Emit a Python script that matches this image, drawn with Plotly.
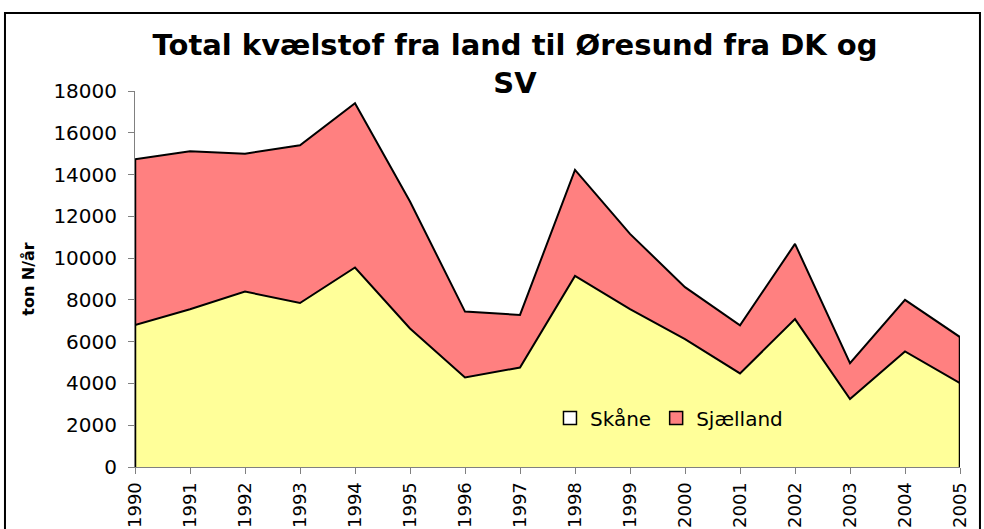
import plotly.graph_objects as go

years = list(range(1990, 2006))
skaane = [6800, 7550, 8400, 7850, 9550, 6630, 4290, 4760, 9150, 7560, 6120, 4480, 7080, 3250, 5530, 4020]
sjaelland = [7930, 7560, 6600, 7550, 7860, 6080, 3150, 2520, 5070, 3600, 2490, 2300, 3600, 1720, 2470, 2200]
series_names = ["Skåne", "Sjælland"]
series_colors = ["#FFFF99", "#FF8080"]
legend_swatch = ["#FFFFFF", "#FF8080"]
y_ticks = list(range(0, 18001, 2000))

FONT = "DejaVu Sans, Liberation Sans, Arial, sans-serif"

fig = go.Figure()
for name, vals, col in zip(series_names, [skaane, sjaelland], series_colors):
    fig.add_trace(go.Scatter(
        x=years, y=vals, name=name, stackgroup="one", mode="lines",
        line=dict(color="black", width=2), fillcolor=col, showlegend=False,
        hoverinfo="x+y+name",
    ))

totals = [a + b for a, b in zip(skaane, sjaelland)]
# vertical edges of the area at the first and last year
for xi, top in [(years[0], totals[0]), (years[-1], totals[-1])]:
    fig.add_trace(go.Scatter(x=[xi, xi], y=[0, top], mode="lines",
                             line=dict(color="black", width=2.5),
                             showlegend=False, hoverinfo="skip"))

for name, sw in zip(series_names, legend_swatch):
    fig.add_trace(go.Scatter(
        x=[None], y=[None], mode="markers", name=name,
        marker=dict(symbol="square", size=13, color=sw,
                    line=dict(color="black", width=1.5)),
    ))

fig.update_layout(
    width=984, height=529,
    margin=dict(l=135, r=24, t=91, b=62, autoexpand=False),
    paper_bgcolor="white", plot_bgcolor="white",
    font=dict(family=FONT, size=20, color="black"),
    title=dict(
        text="<b>Total kvælstof fra land til Øresund fra DK og<br>SV</b>",
        xref="container", yref="container",
        x=0.5234, xanchor="center", y=0.896, yanchor="middle",
        font=dict(family=FONT, size=29, color="black"),
    ),
    showlegend=True,
    legend=dict(
        orientation="h", x=0.503, y=0.13, xanchor="left", yanchor="middle",
        bgcolor="rgba(0,0,0,0)", font=dict(family=FONT, size=20),
        itemwidth=30, traceorder="normal", tracegroupgap=0,
    ),
    xaxis=dict(
        range=[years[0], years[-1]], tickmode="array", tickvals=years,
        ticktext=[str(y) for y in years], tickangle=-90,
        showgrid=False, zeroline=False, showline=True, linecolor="#808080",
        linewidth=1, ticks="outside", ticklen=6, tickcolor="#808080",
        tickfont=dict(family=FONT, size=18), automargin=False,
        ticklabelstandoff=1,
    ),
    yaxis=dict(
        range=[0, 18000], tickmode="array", tickvals=y_ticks,
        ticktext=[str(v) for v in y_ticks],
        showgrid=False, zeroline=False, showline=True, linecolor="#808080",
        linewidth=1, ticks="outside", ticklen=6, tickcolor="#808080",
        tickfont=dict(family=FONT, size=20), automargin=False,
        ticklabelstandoff=7,
        title=dict(text="<b>ton N/år</b>", font=dict(family=FONT, size=16), standoff=14),
    ),
    shapes=[dict(type="rect", xref="paper", yref="paper",
                 x0=-0.1576, x1=1.0242, y0=-0.4, y1=1.2074,
                 line=dict(color="black", width=2), fillcolor="rgba(0,0,0,0)", layer="below")],
)

fig.write_html("out.html", config={"displayModeBar": False},
               post_script="document.body.style.margin='0';document.body.style.overflow='hidden';")
